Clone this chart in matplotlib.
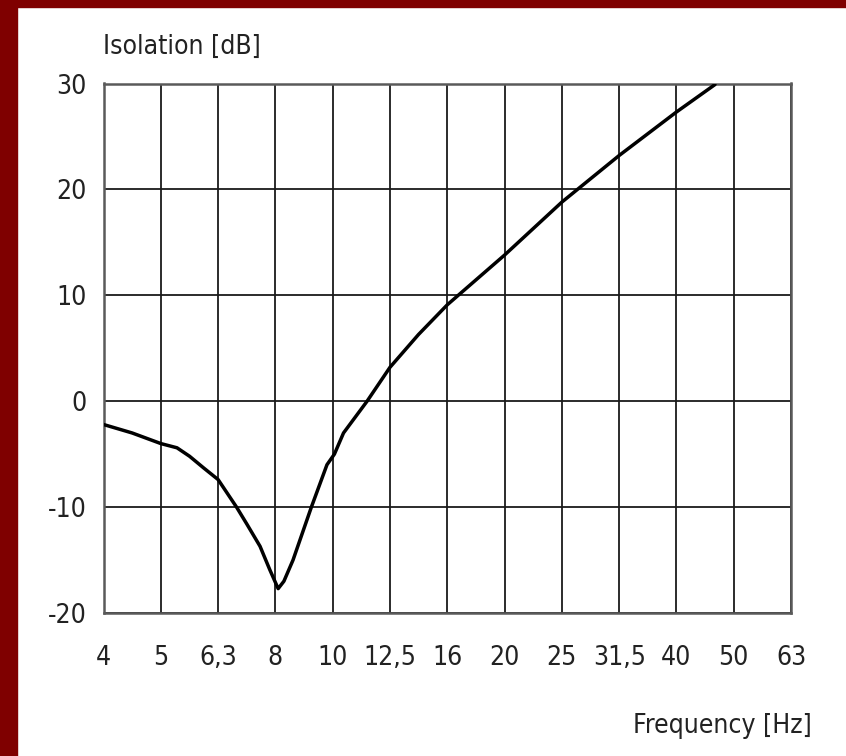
import matplotlib
matplotlib.use("Agg")
import matplotlib.pyplot as plt
from matplotlib.patches import Rectangle

# Measured isolation curve
freq_hz = [4.0, 4.49, 5.04, 5.38, 5.66, 5.99, 6.35, 6.84, 7.13, 7.52, 7.82,
           8.09, 8.28, 8.59, 9.25, 9.85, 10.15, 10.53, 11.58, 12.7, 14.25,
           16.0, 20.16, 25.4, 32.0, 40.3, 47.1]
isolation_db = [-2.2, -3.0, -4.0, -4.4, -5.2, -6.3, -7.4, -10.0, -11.6, -13.7, -15.9,
                -17.7, -17.0, -15.0, -10.0, -6.0, -5.0, -3.0, 0.0, 3.2, 6.3,
                9.1, 13.8, 18.8, 23.2, 27.3, 29.9]

# One-third octave band labels
band_labels = ["4", "5", "6,3", "8", "10", "12,5", "16", "20", "25", "31,5", "40", "50", "63"]
y_ticks = [-20, -10, 0, 10, 20, 30]

W, H = 846, 756
fig = plt.figure(figsize=(W / 100, H / 100), dpi=100)
fig.patch.set_facecolor("white")

# dark red frame along the top and left edges
red = "#7f0000"
fig.patches.append(Rectangle((0, 1 - 7 / H), 1, 7 / H, transform=fig.transFigure,
                             color=red, zorder=0))
fig.patches.append(Rectangle((0, 0), 17 / W, 1, transform=fig.transFigure,
                             color=red, zorder=0))

left, right, top, bottom = 103.5, 791, 83.5, 613
ax = fig.add_axes([left / W, 1 - bottom / H, (right - left) / W, (bottom - top) / H])

# exact third-octave band centres for the grid positions
band_centres = [4 * 2 ** (k / 3) for k in range(len(band_labels))]

ax.set_xscale("log")
ax.set_xlim(band_centres[0], band_centres[-1])
ax.set_ylim(-20, 30)
ax.set_xticks(band_centres)
ax.set_xticklabels(band_labels)
ax.minorticks_off()
ax.set_yticks(y_ticks)
ax.set_yticklabels([str(v) for v in y_ticks])

font = dict(family=["DejaVu Sans"], stretch="condensed", size=19, color="#222222")
ax.tick_params(length=0, colors="#222222")
ax.tick_params(axis="y", pad=12)
ax.tick_params(axis="x", pad=23)
for lab in ax.get_xticklabels() + ax.get_yticklabels():
    lab.set_family(font["family"])
    lab.set_stretch(font["stretch"])
    lab.set_size(font["size"])

ax.grid(True, color="#1a1a1a", linewidth=1.3)
for s in ax.spines.values():
    s.set_color("#5a5a5a")
    s.set_linewidth(1.8)

ax.plot(freq_hz, isolation_db, color="black", linewidth=2.5, solid_joinstyle="round",
        solid_capstyle="round", zorder=3)

fig.text(103 / W, 1 - 54 / H, "Isolation [dB]", ha="left", va="baseline", **font)
fig.text(812 / W, 1 - 733 / H, "Frequency [Hz]", ha="right", va="baseline", **font)

fig.savefig("out.png", dpi=100, facecolor="white")
